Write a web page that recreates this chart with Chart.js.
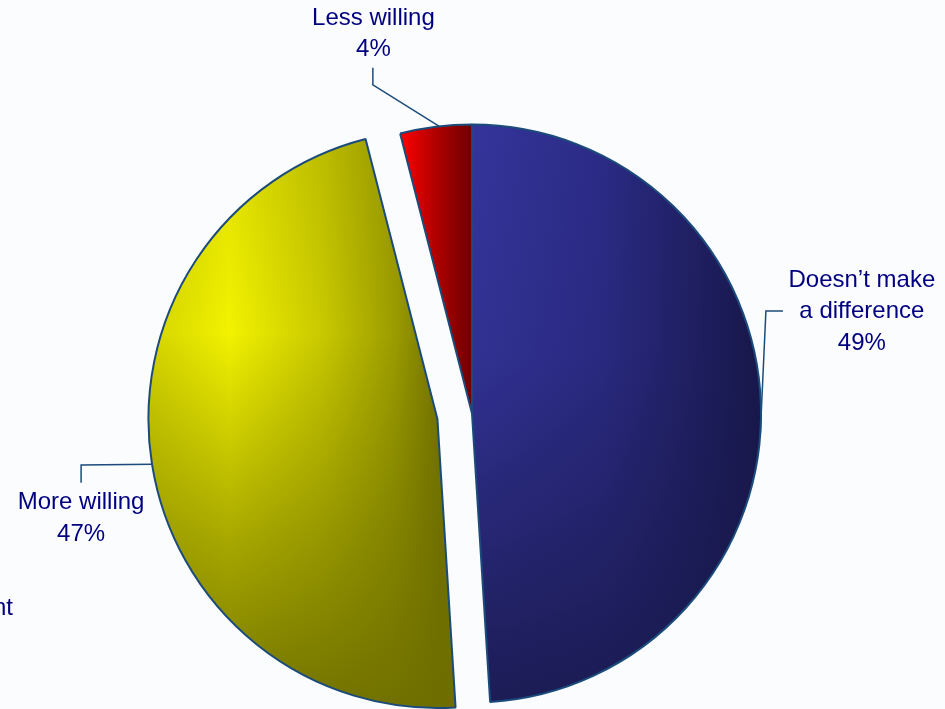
<!DOCTYPE html>
<html>
<head>
<meta charset="utf-8">
<script src="https://cdn.jsdelivr.net/npm/chart.js@4.4.0/dist/chart.umd.min.js"></script>
<style>
  html, body { margin: 0; padding: 0; background: #fbfcfe; }
  #wrap { width: 945px; height: 709px; position: relative; }
</style>
</head>
<body>
<div id="wrap"><canvas id="myChart"></canvas></div>
<script>
// data
const categories = ['Doesn\u2019t make a difference', 'More willing', 'Less willing'];
const labelLines = [['Doesn\u2019t make', 'a difference'], ['More willing'], ['Less willing']];
const shares = [49, 47, 4];
const clippedNote = 'nt';

// look
const RADIUS = 289;
const explode = [0, 35, 0];
const textColor = '#000080';
const edgeColor = '#1b4b7b';
const FONT = '24px "Liberation Sans", Arial, sans-serif';
const LINE_H = 31.5;

// leader lines + label spots, in units of the slice radius from the slice centre
const leaderLayout = [
  {anchor: 94,    elbow: [1.017, -0.355], end: [1.076, -0.355], text: [1.349, -0.462]},
  {anchor: 261,   elbow: [-1.233, 0.159], end: [-1.233, 0.221], text: [-1.233, 0.290]},
  {anchor: 353.5, elbow: [-0.343, -1.137], end: [-0.343, -1.196], text: [-0.341, -1.368]}
];

const ctx = document.getElementById('myChart').getContext('2d');

function sliceCentre(i, cx, cy) {
  const total = shares.reduce((a, b) => a + b, 0);
  let acc = 0;
  for (let k = 0; k < i; k++) acc += shares[k];
  const mid = (acc + shares[i] / 2) / total * Math.PI * 2 - Math.PI / 2;
  return [cx + Math.cos(mid) * explode[i], cy + Math.sin(mid) * explode[i]];
}

const patternCache = {};
function shade(chart, i) {
  const area = chart.chartArea;
  if (!area) return '#888';
  const key = i + ':' + chart.width + 'x' + chart.height;
  if (patternCache[key]) return patternCache[key];
  const W = chart.width, H = chart.height;
  const cx = (area.left + area.right) / 2, cy = (area.top + area.bottom) / 2;
  const [ox, oy] = sliceCentre(i, cx, cy);
  const R = RADIUS;
  const c = document.createElement('canvas');
  c.width = W; c.height = H;
  const g = c.getContext('2d');
  let lg, vg;
  if (i === 0) {
    lg = g.createLinearGradient(ox, 0, ox + R, 0);
    lg.addColorStop(0, '#34349b');
    lg.addColorStop(0.45, '#2b2b86');
    lg.addColorStop(1, '#17174a');
    g.fillStyle = lg; g.fillRect(0, 0, W, H);
    vg = g.createLinearGradient(0, oy - R, 0, oy + R);
    vg.addColorStop(0, 'rgba(24,24,74,0)');
    vg.addColorStop(0.4, 'rgba(24,24,74,0.1)');
    vg.addColorStop(1, 'rgba(24,24,74,0.85)');
    g.fillStyle = vg; g.fillRect(0, 0, W, H);
  } else if (i === 1) {
    lg = g.createLinearGradient(ox - R, 0, ox, 0);
    lg.addColorStop(0, '#d4d400');
    lg.addColorStop(0.28, '#f2f200');
    lg.addColorStop(0.6, '#c9c900');
    lg.addColorStop(0.85, '#9c9c00');
    lg.addColorStop(1, '#747400');
    g.fillStyle = lg; g.fillRect(0, 0, W, H);
    vg = g.createLinearGradient(0, oy - R, 0, oy + R);
    vg.addColorStop(0, 'rgba(110,110,0,0.15)');
    vg.addColorStop(0.35, 'rgba(110,110,0,0)');
    vg.addColorStop(0.7, 'rgba(110,110,0,0.55)');
    vg.addColorStop(1, 'rgba(110,110,0,0.95)');
    g.fillStyle = vg; g.fillRect(0, 0, W, H);
  } else {
    lg = g.createLinearGradient(ox - R * 0.25, 0, ox, 0);
    lg.addColorStop(0, '#ff0000');
    lg.addColorStop(0.5, '#b00000');
    lg.addColorStop(1, '#6e0000');
    g.fillStyle = lg; g.fillRect(0, 0, W, H);
  }
  patternCache[key] = chart.ctx.createPattern(c, 'no-repeat');
  return patternCache[key];
}

// pull exploded slices out without growing them
const explodePlugin = {
  id: 'explode',
  afterDatasetUpdate(chart, args) {
    const meta = chart.getDatasetMeta(args.index);
    meta.data.forEach((arc, i) => {
      if (!explode[i]) return;
      const mid = (arc.startAngle + arc.endAngle) / 2;
      arc.x += Math.cos(mid) * explode[i];
      arc.y += Math.sin(mid) * explode[i];
    });
  }
};

const labelPlugin = {
  id: 'leaders',
  afterDatasetsDraw(chart) {
    const c = chart.ctx;
    const meta = chart.getDatasetMeta(0);
    const total = shares.reduce((a, b) => a + b, 0);
    c.save();
    meta.data.forEach((arc, i) => {
      const L = leaderLayout[i];
      const R = arc.outerRadius;
      const a = L.anchor * Math.PI / 180;
      const ax = arc.x + R * Math.sin(a), ay = arc.y - R * Math.cos(a);
      c.strokeStyle = edgeColor;
      c.lineWidth = 1.5;
      c.beginPath();
      c.moveTo(ax, ay);
      c.lineTo(arc.x + L.elbow[0] * R, arc.y + L.elbow[1] * R);
      c.lineTo(arc.x + L.end[0] * R, arc.y + L.end[1] * R);
      c.stroke();

      const lines = labelLines[i].concat([Math.round(shares[i] / total * 100) + '%']);
      c.fillStyle = textColor;
      c.font = FONT;
      c.textAlign = 'center';
      c.textBaseline = 'middle';
      const tx = arc.x + L.text[0] * R, ty = arc.y + L.text[1] * R;
      lines.forEach((t, k) => c.fillText(t, tx, ty + k * LINE_H));
    });
    c.textAlign = 'right';
    c.fillText(clippedNote, 13, 608);
    c.restore();
  }
};

const myChart = new Chart(ctx, {
  type: 'pie',
  data: {
    labels: categories,
    datasets: [{
      data: shares,
      backgroundColor: (context) => shade(context.chart, context.dataIndex),
      borderColor: edgeColor,
      borderWidth: 2,
      radius: RADIUS,
      clip: false
    }]
  },
  options: {
    responsive: true,
    maintainAspectRatio: false,
    animation: false,
    events: [],
    layout: { padding: { top: 118, left: 0, right: 1, bottom: 0 } },
    plugins: {
      legend: { display: false },
      tooltip: { enabled: false }
    }
  },
  plugins: [explodePlugin, labelPlugin]
});
</script>
</body>
</html>
